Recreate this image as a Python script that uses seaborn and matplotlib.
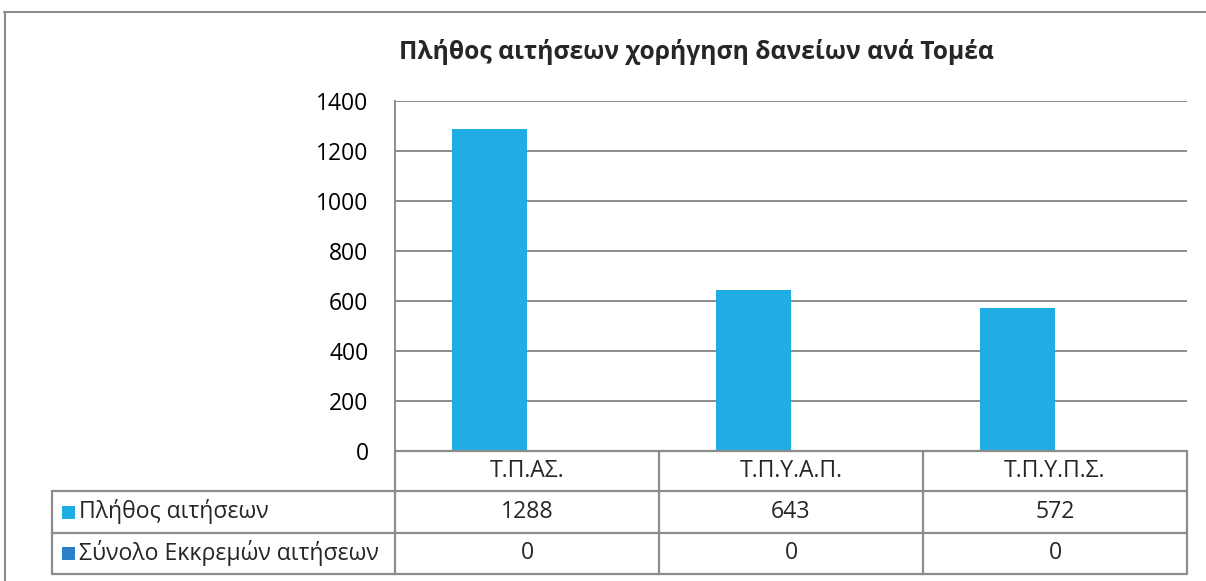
import pandas as pd
import matplotlib.pyplot as plt
import matplotlib.transforms as mtransforms
import seaborn as sns
from matplotlib.lines import Line2D
from matplotlib.patches import Rectangle

title = "Πλήθος αιτήσεων χορήγηση δανείων ανά Τομέα"
sectors = ["Τ.Π.ΑΣ.", "Τ.Π.Υ.Α.Π.", "Τ.Π.Υ.Π.Σ."]
series_names = ["Πλήθος αιτήσεων", "Σύνολο Εκκρεμών αιτήσεων"]
applications = [1288, 643, 572]
pending = [0, 0, 0]
yticks = [0, 200, 400, 600, 800, 1000, 1200, 1400]

colors = ["#1FADE4", "#2A7FC9"]
grey = "#8C8C8C"

W, H = 1206, 581
sns.set_theme(style="white")
plt.rcParams["font.family"] = ["Open Sans", "DejaVu Sans"]


def fx(x):
    return x / W


def fy(y):
    return 1 - y / H


fig = plt.figure(figsize=(W / 100, H / 100), dpi=100)
ax = fig.add_axes([fx(395), fy(451), fx(1187) - fx(395), fy(101) - fy(451)])

df = pd.DataFrame({
    "sector": sectors * 2,
    "series": [series_names[0]] * 3 + [series_names[1]] * 3,
    "value": applications + pending,
})
sns.barplot(data=df, x="sector", y="value", hue="series", palette=colors,
            width=0.57, linewidth=0, saturation=1, errorbar=None,
            legend=False, ax=ax)

ax.set_ylim(0, 1400)
ax.set_xlim(-0.5, 2.5)
ax.set_yticks(yticks)
ax.set_yticklabels([str(t) for t in yticks])
ax.yaxis.grid(True, color=grey, linewidth=1.4)
ax.set_axisbelow(True)
ax.set_xlabel("")
ax.set_ylabel("")
ax.tick_params(axis="x", labelbottom=False, length=0)
ax.tick_params(axis="y", length=0, pad=19, labelsize=16.5, labelcolor="black")
for side in ["top", "right", "bottom"]:
    ax.spines[side].set_visible(False)
ax.spines["left"].set_color(grey)
ax.spines["left"].set_linewidth(1.4)

# data table under the plot
blend = mtransforms.blended_transform_factory(ax.transData, fig.transFigure)
lw = 1.6
for y in [491, 533, 574]:
    fig.add_artist(Line2D([fx(52), fx(1187)], [fy(y), fy(y)], color=grey, lw=lw))
fig.add_artist(Line2D([fx(395), fx(1187)], [fy(451), fy(451)], color=grey, lw=lw))
fig.add_artist(Line2D([fx(52), fx(52)], [fy(491), fy(574)], color=grey, lw=lw))
for xb in [-0.5, 0.5, 1.5, 2.5]:
    fig.add_artist(Line2D([xb, xb], [fy(451), fy(574)], color=grey, lw=lw,
                          transform=blend))

cell_fs = 16.6
for i, s in enumerate(sectors):
    fig.text(i, fy(471), s, transform=blend, ha="center", va="center", fontsize=cell_fs)
    fig.text(i, fy(512), str(applications[i]), transform=blend, ha="center",
             va="center", fontsize=cell_fs)
    fig.text(i, fy(553), str(pending[i]), transform=blend, ha="center",
             va="center", fontsize=cell_fs)

for name, col, yc in zip(series_names, colors, [512, 553]):
    fig.add_artist(Rectangle((fx(62), fy(yc + 7)), fx(13), 13 / H, color=col, lw=0))
    fig.text(fx(79), fy(yc), name, ha="left", va="center", fontsize=cell_fs)

fig.text(fx(696), fy(52), title, ha="center", va="center", fontsize=17.7,
         fontweight="bold")

# chart area border (cropped at right and bottom)
fig.add_artist(Line2D([fx(4), 1], [fy(12), fy(12)], color=grey, lw=1.5))
fig.add_artist(Line2D([fx(5), fx(5)], [fy(12), 0], color=grey, lw=1.5))

fig.savefig("out.png", dpi=100)
